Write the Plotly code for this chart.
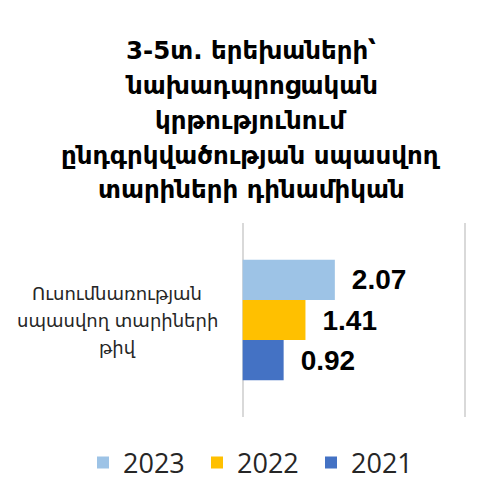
import plotly.graph_objects as go

# ---- data ----
title_lines = [
    "3-5տ. երեխաների՝",
    "նախադպրոցական",
    "կրթությունում",
    "ընդգրկվածության սպասվող",
    "տարիների դինամիկան",
]
category = "Ուսումնառության սպասվող տարիների թիվ"
category_lines = ["Ուսումնառության", "սպասվող տարիների", "թիվ"]
years = ["2021", "2022", "2023"]
values = [0.92, 1.41, 2.07]
colors = {"2021": "#4472C4", "2022": "#FFC000", "2023": "#9DC3E6"}

W, H = 497, 497
L, R, T, B = 240, 29, 223, 80
pw, ph = W - L - R, H - T - B

fig = go.Figure()
for yr, v in zip(years, values):
    fig.add_trace(go.Bar(
        y=[category], x=[v], name=yr, orientation="h",
        marker=dict(color=colors[yr], line=dict(width=0)),
        text=[f"{v:.2f}"], texttemplate="\u2002%{text}",
        textposition="outside", cliponaxis=False, constraintext="none",
        textfont=dict(family="Liberation Sans", size=28, color="#000000", weight="bold"),
    ))

# title lines (centered across the figure)
title_y_px = [50, 85, 120, 155, 189]
for line, ypx in zip(title_lines, title_y_px):
    fig.add_annotation(
        text=f"<b>{line}</b>", xref="paper", yref="paper",
        x=(251 - L) / pw, y=(H - B - ypx) / ph, xanchor="center", yanchor="middle",
        showarrow=False, font=dict(family="DejaVu Sans", size=24.5, color="#000000"),
    )

# category label, centered on the category
for i, line in enumerate(category_lines):
    fig.add_annotation(
        text=line, xref="paper", yref="y", x=(117 - L) / pw, y=category,
        yshift=27 * (1 - i), xanchor="center", yanchor="middle", align="center",
        showarrow=False, font=dict(family="DejaVu Sans", size=18, color="#262626"),
    )

fig.update_layout(
    width=W, height=H, margin=dict(l=L, r=R, t=T, b=B, autoexpand=False),
    paper_bgcolor="white", plot_bgcolor="white",
    barmode="group", bargap=0.38, bargroupgap=0,
    showlegend=True,
    legend=dict(orientation="h", traceorder="reversed", xref="paper", yref="paper",
                x=(83 - L) / pw, y=(H - B - 463) / ph, xanchor="left", yanchor="middle",
                font=dict(family="Open Sans", size=27, color="#262626"),
                itemwidth=30, tracegroupgap=0, entrywidth=69, entrywidthmode="pixels"),
    xaxis=dict(range=[-0.06, 5.06], tickvals=[0, 5], showticklabels=False, showgrid=True,
               gridcolor="#d9d9d9", gridwidth=1.5, zeroline=False,
               showline=False, fixedrange=True),
    yaxis=dict(showticklabels=False, showgrid=False, zeroline=False, showline=False,
               range=[-0.5, 0.5], fixedrange=True),
)

fig.write_html("out.html", config={"displayModeBar": False},
               post_script="document.body.style.margin='0';")
